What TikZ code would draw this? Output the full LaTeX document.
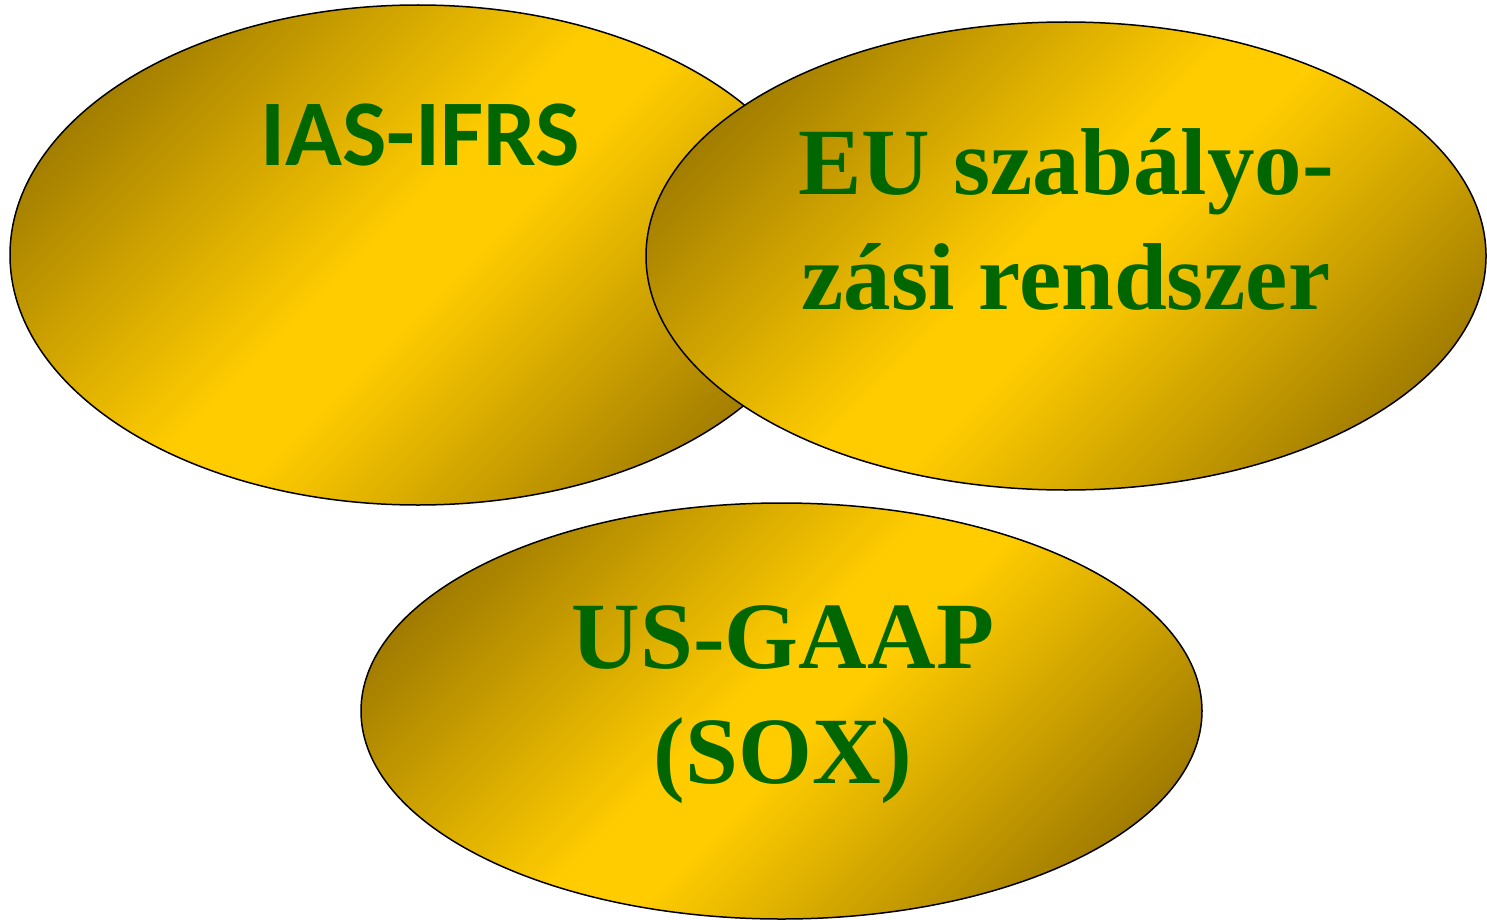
\documentclass[tikz,border=0pt]{standalone}
\usepackage{fontspec}
\usetikzlibrary{shapes.geometric}
\newfontfamily\calibrifont{Carlito}
\newfontfamily\timesfont{Liberation Serif}
\definecolor{golddark}{HTML}{9A7600}
\definecolor{goldlight}{HTML}{FFCC00}
\definecolor{textgreen}{HTML}{006600}
\pgfdeclareverticalshading{goldshade}{100bp}{color(0bp)=(golddark); color(22bp)=(golddark); color(47bp)=(goldlight); color(53bp)=(goldlight); color(78bp)=(golddark); color(100bp)=(golddark)}

\begin{document}
\begin{tikzpicture}[x=0.5pt, y=-0.5pt]
		%define styles
		\tikzset{
			oval/.style={ellipse, draw=black, line width=0.75pt, inner sep=0pt, shade, shading=goldshade, shading angle=45},
			sanstext/.style={inner sep=0pt, text=textgreen, font=\calibrifont\bfseries\fontsize{47}{56}\selectfont},
			seriftext/.style={inner sep=0pt, text=textgreen, align=center, font=\timesfont\bfseries\fontsize{47.5}{57.5}\selectfont},}
		\useasboundingbox (0,0) rectangle (1487,920);
		%define ovals
		\node[oval, minimum width=408pt, minimum height=250pt] (ias) at (418,255) {};
		\node[oval, minimum width=420pt, minimum height=234pt] (eu) at (1066,256) {};
		\node[oval, minimum width=420.5pt, minimum height=208pt] (us) at (781.5,711) {};
		%define texts
		\node[sanstext] (iastext) at (420,135) {IAS-IFRS};
		\node[seriftext] (eutext) at (1066,219) {EU szabályo-\\zási rendszer};
		\node[seriftext] (ustext) at (783,705) {US-GAAP\\(SOX)};
\end{tikzpicture}
\end{document}
